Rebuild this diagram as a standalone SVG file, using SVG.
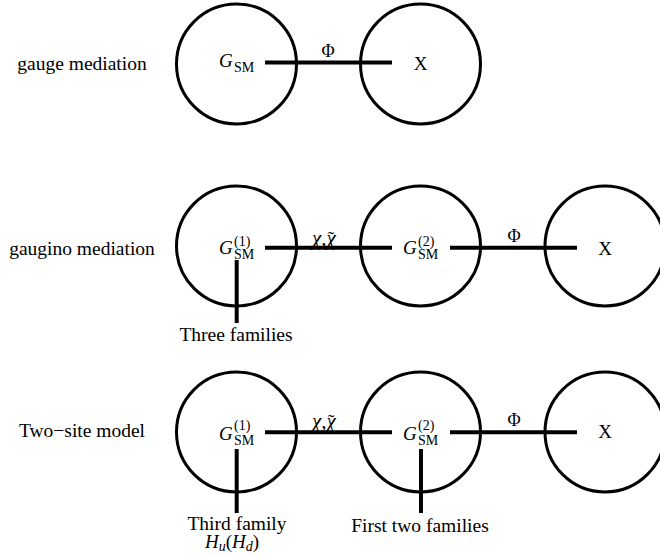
<svg xmlns="http://www.w3.org/2000/svg" width="660" height="557" viewBox="0 0 660 557">
<style>
.site{fill:none;stroke:#000;stroke-width:3}
.link{stroke:#000;stroke-width:4;fill:none}
text{font-family:"Liberation Serif","Times New Roman",serif;fill:#000}
.lbl{font-size:19.5px;text-anchor:middle}
.g{font-size:19px;font-style:italic}
.s{font-size:14px}
.phi{font-size:18px;text-anchor:middle}
.x{font-size:19px;text-anchor:middle}
.chi{font-size:21px;font-style:italic}
</style>
<rect width="660" height="557" fill="#fff"/>

<text class="lbl" x="82" y="70">gauge mediation</text>
<text class="lbl" x="82" y="255">gaugino mediation</text>
<text class="lbl" x="82" y="437">Two−site model</text>

<g id="connectors">
<line class="link" x1="265" y1="62.5" x2="392" y2="62.5"/>
<line class="link" x1="265" y1="247.7" x2="392" y2="247.7"/>
<line class="link" x1="450" y1="247.7" x2="577" y2="247.7"/>
<line class="link" x1="265" y1="432.3" x2="392" y2="432.3"/>
<line class="link" x1="450" y1="432.3" x2="577" y2="432.3"/>
<line class="link" x1="236.7" y1="260" x2="236.7" y2="323"/>
<line class="link" x1="236.7" y1="449" x2="236.7" y2="513"/>
<line class="link" x1="421" y1="449" x2="421" y2="513"/>
<text class="phi" x="328" y="57">Φ</text>
<text class="chi" x="312" y="245">χ,χ<tspan dx="-8" dy="1" font-style="normal" font-size="20">˜</tspan></text>
<text class="phi" x="514" y="242">Φ</text>
<text class="chi" x="312" y="428">χ,χ<tspan dx="-8" dy="1" font-style="normal" font-size="20">˜</tspan></text>
<text class="phi" x="514" y="426">Φ</text>
</g>

<g id="gauge-gsm">
<circle class="site" cx="236.5" cy="64" r="60"/>
<text class="g" x="219" y="67">G</text><text class="s" x="234" y="71.5">SM</text>
</g>
<g id="gauge-x">
<circle class="site" cx="420.5" cy="64" r="60"/>
<text class="x" x="420.5" y="70">X</text>
</g>

<g id="gaugino-gsm1">
<circle class="site" cx="236.5" cy="246" r="60"/>
<text class="g" x="219" y="254">G</text><text class="s" x="234" y="246">(1)</text><text class="s" x="234" y="259">SM</text>
</g>
<g id="gaugino-gsm2">
<circle class="site" cx="420.5" cy="246" r="60"/>
<text class="g" x="403" y="254">G</text><text class="s" x="418" y="246">(2)</text><text class="s" x="418" y="259">SM</text>
</g>
<g id="gaugino-x">
<circle class="site" cx="605" cy="246" r="60"/>
<text class="x" x="605" y="255">X</text>
</g>
<g id="three-families">
<text class="lbl" x="236" y="341">Three families</text>
</g>

<g id="twosite-gsm1">
<circle class="site" cx="236.5" cy="432" r="60"/>
<text class="g" x="219" y="440">G</text><text class="s" x="234" y="430">(1)</text><text class="s" x="234" y="445">SM</text>
</g>
<g id="twosite-gsm2">
<circle class="site" cx="420.5" cy="432" r="60"/>
<text class="g" x="403" y="440">G</text><text class="s" x="418" y="430">(2)</text><text class="s" x="418" y="445">SM</text>
</g>
<g id="twosite-x">
<circle class="site" cx="605" cy="432" r="60"/>
<text class="x" x="605" y="438">X</text>
</g>
<g id="third-family">
<text style="font-size:19.5px"><tspan x="237" y="530" text-anchor="middle">Third family</tspan><tspan x="205" y="548" font-style="italic" font-size="19">H</tspan><tspan font-size="14" font-style="italic" dy="3">u</tspan><tspan dy="-3" font-size="19">(</tspan><tspan font-style="italic" font-size="19">H</tspan><tspan font-size="14" font-style="italic" dy="3">d</tspan><tspan dy="-3" font-size="19">)</tspan></text>
</g>
<g id="first-two-families">
<text class="lbl" x="420" y="532">First two families</text>
</g>
</svg>
